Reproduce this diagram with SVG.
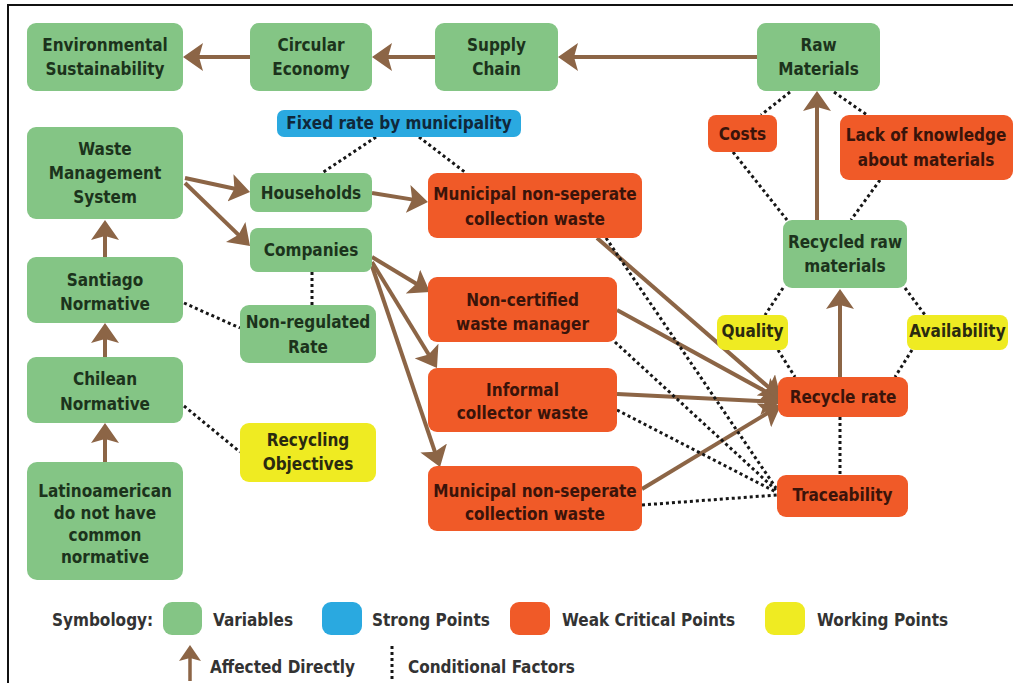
<svg xmlns="http://www.w3.org/2000/svg" width="1013" height="683" viewBox="0 0 1013 683">
<style>
.g{fill:#84c585}
.o{fill:#f05a28}
.b{fill:#2aa9e0}
.y{fill:#efeb22}
text{font-family:"Liberation Sans Narrow","DejaVu Sans Condensed","Liberation Sans",sans-serif;font-stretch:condensed;font-weight:bold;font-size:17px;text-anchor:middle}
.tg{fill:#1c331c}
.to{fill:#3a140a}
.tb{fill:#10283a}
.ty{fill:#2a2a10}
.lg{fill:#333;text-anchor:start}
.a{stroke:#8c6546;stroke-width:4;fill:none;marker-end:url(#ah)}
.d{stroke:#161616;stroke-width:3;stroke-dasharray:3 3;fill:none}
</style>
<defs>
<marker id="ah" viewBox="0 0 20 28" refX="8" refY="14" markerWidth="20" markerHeight="28" markerUnits="userSpaceOnUse" orient="auto">
<path d="M20,14 L0,0 L4,14 L0,28 Z" fill="#8c6546"/>
</marker>
<marker id="ahs" viewBox="0 0 16 22" refX="6" refY="11" markerWidth="16" markerHeight="22" markerUnits="userSpaceOnUse" orient="auto">
<path d="M16,11 L0,0 L3,11 L0,22 Z" fill="#8c6546"/>
</marker>
</defs>
<rect width="1013" height="683" fill="#fff"/>
<path d="M8,683 V5 H1013" stroke="#111" stroke-width="2" fill="none"/>

<g id="connectors">
<line class="a" x1="757" y1="57" x2="570" y2="57"/>
<line class="a" x1="435" y1="57" x2="384" y2="57"/>
<line class="a" x1="250" y1="57" x2="195" y2="57"/>
<line class="a" x1="105" y1="257" x2="105" y2="232"/>
<line class="a" x1="105" y1="357" x2="105" y2="335"/>
<line class="a" x1="105" y1="462" x2="105" y2="435"/>
<line class="a" x1="185" y1="178" x2="238.3" y2="189.5"/>
<line class="a" x1="185" y1="183" x2="241.4" y2="237.6"/>
<line class="a" x1="372" y1="193" x2="416.1" y2="200.1"/>
<line class="a" x1="372" y1="257" x2="419.7" y2="285.8"/>
<line class="a" x1="372" y1="262" x2="430.7" y2="357.8"/>
<line class="a" x1="372" y1="266" x2="436.2" y2="455.6"/>
<line class="a" x1="597" y1="238" x2="771.9" y2="390.1"/>
<line class="a" x1="617" y1="310" x2="770.5" y2="394.2"/>
<line class="a" x1="617" y1="394" x2="769" y2="401.4"/>
<line class="a" x1="642" y1="489" x2="770.7" y2="411.2"/>
<line class="a" x1="840" y1="377" x2="840" y2="301"/>
<line class="a" x1="817" y1="220" x2="817" y2="103"/>
<line class="d" x1="376" y1="137" x2="322" y2="173"/>
<line class="d" x1="419" y1="137" x2="466" y2="173"/>
<line class="d" x1="312" y1="272" x2="312" y2="305"/>
<line class="d" x1="184" y1="303" x2="240" y2="328"/>
<line class="d" x1="184" y1="406" x2="240" y2="452"/>
<line class="d" x1="790" y1="92" x2="761" y2="115"/>
<line class="d" x1="834" y1="92" x2="867" y2="115"/>
<line class="d" x1="733" y1="152" x2="787" y2="220"/>
<line class="d" x1="880" y1="180" x2="851" y2="220"/>
<line class="d" x1="783" y1="288" x2="765" y2="315"/>
<line class="d" x1="778" y1="350" x2="795" y2="377"/>
<line class="d" x1="905" y1="288" x2="925" y2="315"/>
<line class="d" x1="912" y1="350" x2="895" y2="377"/>
<line class="d" x1="840" y1="417" x2="840" y2="475"/>
<line class="d" x1="606" y1="238" x2="776" y2="488"/>
<line class="d" x1="615" y1="342" x2="776" y2="490"/>
<line class="d" x1="617" y1="410" x2="776" y2="492"/>
<line class="d" x1="642" y1="505" x2="777" y2="495"/>
</g>

<g id="env"><rect class="g" x="27" y="23" width="156" height="68" rx="9"/><text class="tg" x="105" y="51">Environmental</text><text class="tg" x="105" y="75">Sustainability</text></g>
<g id="circular"><rect class="g" x="250" y="23" width="122" height="68" rx="9"/><text class="tg" x="311" y="51">Circular</text><text class="tg" x="311" y="75">Economy</text></g>
<g id="supply"><rect class="g" x="435" y="23" width="123" height="68" rx="9"/><text class="tg" x="496.5" y="51">Supply</text><text class="tg" x="496.5" y="75">Chain</text></g>
<g id="raw"><rect class="g" x="757" y="23" width="123" height="68" rx="9"/><text class="tg" x="818.5" y="51">Raw</text><text class="tg" x="818.5" y="75">Materials</text></g>
<g id="fixed"><rect class="b" x="277" y="110" width="244" height="27" rx="7"/><text class="tb" x="399" y="129">Fixed rate by municipality</text></g>
<g id="wms"><rect class="g" x="27" y="127" width="156" height="92" rx="9"/><text class="tg" x="105" y="155">Waste</text><text class="tg" x="105" y="179">Management</text><text class="tg" x="105" y="203">System</text></g>
<g id="households"><rect class="g" x="250" y="173" width="122" height="39" rx="8"/><text class="tg" x="311" y="199">Households</text></g>
<g id="muni1"><rect class="o" x="428" y="173" width="214" height="65" rx="9"/><text class="to" x="535" y="200">Municipal non-seperate</text><text class="to" x="535" y="225">collection waste</text></g>
<g id="companies"><rect class="g" x="250" y="228" width="122" height="44" rx="8"/><text class="tg" x="311" y="256">Companies</text></g>
<g id="nonreg"><rect class="g" x="240" y="305" width="136" height="58" rx="9"/><text class="tg" x="308" y="328">Non-regulated</text><text class="tg" x="308" y="353">Rate</text></g>
<g id="santiago"><rect class="g" x="27" y="257" width="156" height="66" rx="9"/><text class="tg" x="105" y="286">Santiago</text><text class="tg" x="105" y="310">Normative</text></g>
<g id="chilean"><rect class="g" x="27" y="357" width="156" height="66" rx="9"/><text class="tg" x="105" y="385">Chilean</text><text class="tg" x="105" y="410">Normative</text></g>
<g id="recobj"><rect class="y" x="240" y="423" width="136" height="59" rx="9"/><text class="ty" x="308" y="446">Recycling</text><text class="ty" x="308" y="470">Objectives</text></g>
<g id="latino"><rect class="g" x="27" y="462" width="156" height="118" rx="10"/><text class="tg" x="105" y="497">Latinoamerican</text><text class="tg" x="105" y="519">do not have</text><text class="tg" x="105" y="541">common</text><text class="tg" x="105" y="563">normative</text></g>
<g id="noncert"><rect class="o" x="428" y="277" width="189" height="65" rx="9"/><text class="to" x="522.5" y="306">Non-certified</text><text class="to" x="522.5" y="330">waste manager</text></g>
<g id="informal"><rect class="o" x="428" y="368" width="189" height="64" rx="9"/><text class="to" x="522.5" y="396">Informal</text><text class="to" x="522.5" y="419">collector waste</text></g>
<g id="muni2"><rect class="o" x="428" y="466" width="214" height="65" rx="9"/><text class="to" x="535" y="497">Municipal non-seperate</text><text class="to" x="535" y="520">collection waste</text></g>
<g id="recycledraw"><rect class="g" x="783" y="220" width="124" height="68" rx="9"/><text class="tg" x="845" y="248">Recycled raw</text><text class="tg" x="845" y="272">materials</text></g>
<g id="quality"><rect class="y" x="717" y="315" width="71" height="35" rx="8"/><text class="ty" x="752.5" y="337">Quality</text></g>
<g id="availability"><rect class="y" x="907" y="315" width="101" height="35" rx="8"/><text class="ty" x="957.5" y="337">Availability</text></g>
<g id="recyclerate"><rect class="o" x="778" y="377" width="130" height="40" rx="9"/><text class="to" x="843" y="403">Recycle rate</text></g>
<g id="traceability"><rect class="o" x="777" y="475" width="131" height="42" rx="9"/><text class="to" x="842.5" y="501">Traceability</text></g>
<g id="costs"><rect class="o" x="708" y="115" width="69" height="37" rx="8"/><text class="to" x="742.5" y="140">Costs</text></g>
<g id="lack"><rect class="o" x="840" y="115" width="173" height="65" rx="9"/><text class="to" x="926" y="141">Lack of knowledge</text><text class="to" x="926" y="166">about materials</text></g>

<g id="legend">
<text class="lg" x="52" y="626">Symbology:</text>
<rect class="g" x="163" y="602" width="39" height="33" rx="9"/>
<text class="lg" x="213" y="626">Variables</text>
<rect class="b" x="322" y="602" width="40" height="33" rx="9"/>
<text class="lg" x="372" y="626">Strong Points</text>
<rect class="o" x="510" y="602" width="40" height="33" rx="9"/>
<text class="lg" x="562" y="626">Weak Critical Points</text>
<rect class="y" x="765" y="602" width="40" height="33" rx="9"/>
<text class="lg" x="817" y="626">Working Points</text>
<line x1="190" y1="681" x2="190" y2="655" stroke="#8c6546" stroke-width="3.5" marker-end="url(#ahs)"/>
<text class="lg" x="210" y="673">Affected Directly</text>
<line class="d" x1="392" y1="646" x2="392" y2="679"/>
<text class="lg" x="408" y="673">Conditional Factors</text>
</g>
</svg>
